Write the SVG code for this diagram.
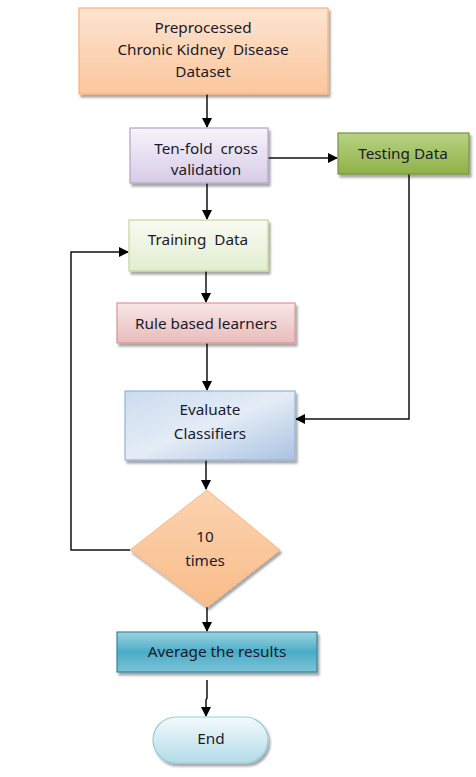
<svg xmlns="http://www.w3.org/2000/svg" width="476" height="777" viewBox="0 0 476 777">
<defs>
<style>
text{font-family:"Noto Sans","Open Sans",sans-serif;font-size:15.3px;fill:#1a1a2a;text-anchor:middle;white-space:pre}
.ln{fill:none;stroke:#111;stroke-width:1.5}
</style>
<filter id="sh" x="-10%" y="-10%" width="130%" height="140%"><feDropShadow dx="2" dy="3" stdDeviation="1.2" flood-color="#000" flood-opacity="0.35"/></filter>
<marker id="ar" markerWidth="10" markerHeight="10" refX="9" refY="5" orient="auto" markerUnits="userSpaceOnUse"><path d="M0,0 L10,5 L0,10 Z" fill="#000"/></marker>
<linearGradient id="gOr" x1="0" y1="0" x2="0" y2="1"><stop offset="0" stop-color="#fde4d0"/><stop offset="1" stop-color="#fbc69c"/></linearGradient>
<linearGradient id="gPu" x1="0" y1="0" x2="0" y2="1"><stop offset="0" stop-color="#f7f4fb"/><stop offset="1" stop-color="#d6cbe6"/></linearGradient>
<linearGradient id="gGr" x1="0" y1="0" x2="0" y2="1"><stop offset="0" stop-color="#b8d283"/><stop offset="1" stop-color="#8fb249"/></linearGradient>
<linearGradient id="gLg" x1="0" y1="0" x2="0" y2="1"><stop offset="0" stop-color="#f8fbf2"/><stop offset="1" stop-color="#e2edcf"/></linearGradient>
<linearGradient id="gPk" x1="0" y1="0" x2="0" y2="1"><stop offset="0" stop-color="#f8e7e6"/><stop offset="1" stop-color="#e8bcbb"/></linearGradient>
<linearGradient id="gBl" x1="0" y1="0" x2="1" y2="1"><stop offset="0" stop-color="#cbdcef"/><stop offset="0.5" stop-color="#e4ecf6"/><stop offset="1" stop-color="#a9c3e2"/></linearGradient>
<linearGradient id="gDi" x1="0" y1="0" x2="0" y2="1"><stop offset="0" stop-color="#fcd3b0"/><stop offset="1" stop-color="#f9bc8a"/></linearGradient>
<linearGradient id="gTe" x1="0" y1="0" x2="0" y2="1"><stop offset="0" stop-color="#9dd3e2"/><stop offset="0.5" stop-color="#4badc7"/><stop offset="1" stop-color="#7cc3d7"/></linearGradient>
<linearGradient id="gEn" x1="0" y1="0" x2="0" y2="1"><stop offset="0" stop-color="#f4fafc"/><stop offset="1" stop-color="#b2dbe7"/></linearGradient>
</defs>

<g id="connectors">
<path class="ln" d="M207,93 V127" marker-end="url(#ar)"/>
<path class="ln" d="M268,158 H337" marker-end="url(#ar)"/>
<path class="ln" d="M207,183 V219" marker-end="url(#ar)"/>
<path class="ln" d="M206,271 V302" marker-end="url(#ar)"/>
<path class="ln" d="M207,343 V390" marker-end="url(#ar)"/>
<path class="ln" d="M409,174 V419 H296" marker-end="url(#ar)"/>
<path class="ln" d="M206,460 V489" marker-end="url(#ar)"/>
<path class="ln" d="M130,550 H71 V252 H128" marker-end="url(#ar)"/>
<path class="ln" d="M207,607 V631" marker-end="url(#ar)"/>
<path class="ln" d="M207,680 V698 L206,700 V716" marker-end="url(#ar)"/>
</g>

<g id="preprocessed">
<rect x="79" y="8" width="249" height="86" fill="url(#gOr)" stroke="#f8b07a" stroke-width="1.2" filter="url(#sh)"/>
<text x="203" y="33">Preprocessed</text>
<text x="203" y="55">Chronic Kidney  Disease</text>
<text x="203" y="77">Dataset</text>
</g>

<g id="tenfold">
<rect x="130" y="128" width="138" height="55" fill="url(#gPu)" stroke="#b3a2c7" stroke-width="1.2" filter="url(#sh)"/>
<text x="206" y="154">Ten-fold  cross</text>
<text x="206" y="175">validation</text>
</g>

<g id="testing">
<rect x="338" y="133" width="131" height="41" fill="url(#gGr)" stroke="#77933c" stroke-width="1.2" filter="url(#sh)"/>
<text x="403" y="159">Testing Data</text>
</g>

<g id="training">
<rect x="129" y="220" width="139" height="51" fill="url(#gLg)" stroke="#c3d69b" stroke-width="1.2" filter="url(#sh)"/>
<text x="198" y="245">Training  Data</text>
</g>

<g id="rule">
<rect x="117" y="303" width="178" height="40" fill="url(#gPk)" stroke="#d99694" stroke-width="1.2" filter="url(#sh)"/>
<text x="206" y="329">Rule based learners</text>
</g>

<g id="evaluate">
<rect x="125" y="391" width="170" height="69" fill="url(#gBl)" stroke="#95b3d7" stroke-width="1.2" filter="url(#sh)"/>
<text x="210" y="415">Evaluate</text>
<text x="210" y="439">Classifiers</text>
</g>

<g id="decision">
<polygon points="207,490 280,550 207,607 130,550" fill="url(#gDi)" stroke="#f9b98a" stroke-width="1" filter="url(#sh)"/>
<text x="205" y="542">10</text>
<text x="205" y="566">times</text>
</g>

<g id="average">
<rect x="117" y="632" width="200" height="40" fill="url(#gTe)" stroke="#31859c" stroke-width="1.2" filter="url(#sh)"/>
<text x="217" y="657">Average the results</text>
</g>

<g id="end">
<rect x="153" y="717" width="115" height="46" rx="23" ry="23" fill="url(#gEn)" stroke="#93cddd" stroke-width="1.2" filter="url(#sh)"/>
<text x="211" y="744">End</text>
</g>
</svg>
